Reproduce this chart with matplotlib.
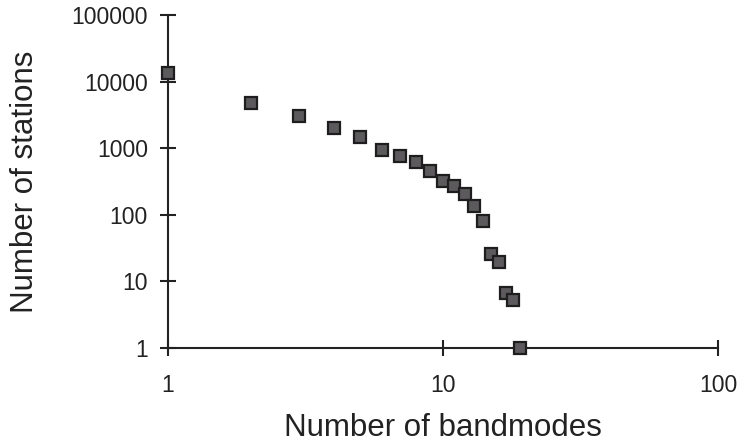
import matplotlib.pyplot as plt
from matplotlib.ticker import FixedLocator, FixedFormatter, NullLocator

plt.rcParams['font.family'] = ['Liberation Sans', 'DejaVu Sans']

bandmodes = [1, 2, 3, 4, 5, 6, 7, 8, 9, 10, 11, 12, 13, 14, 15, 16, 17, 18, 19]
stations = [13500, 4800, 3000, 2000, 1470, 930, 755, 614, 447, 327,
            275, 208, 137, 81, 25.7, 19.4, 6.8, 5.3, 1]

x_ticks = [1, 10, 100]
x_labels = ['1', '10', '100']
y_ticks = [1, 10, 100, 1000, 10000, 100000]
y_labels = ['1', '10', '100', '1000', '10000', '100000']

fig = plt.figure(figsize=(7.47, 4.44), dpi=100)
ax = fig.add_axes([0.2249, 0.2162, 0.7363, 0.75])

ax.plot(bandmodes, stations, linestyle='none', marker='s', markersize=9,
        markerfacecolor='#5c5a5c', markeredgecolor='#1e1e1e',
        markeredgewidth=1.6, clip_on=False, zorder=5)

ax.set_xscale('log')
ax.set_yscale('log')
ax.set_xlim(1, 100)
ax.set_ylim(1, 100000)

ax.xaxis.set_major_locator(FixedLocator(x_ticks))
ax.xaxis.set_major_formatter(FixedFormatter(x_labels))
ax.xaxis.set_minor_locator(NullLocator())
ax.yaxis.set_major_locator(FixedLocator(y_ticks))
ax.yaxis.set_major_formatter(FixedFormatter(y_labels))
ax.yaxis.set_minor_locator(NullLocator())

for side in ['top', 'right']:
    ax.spines[side].set_visible(False)
for side in ['left', 'bottom']:
    ax.spines[side].set_linewidth(1.5)
    ax.spines[side].set_color('#222222')

ax.tick_params(axis='both', direction='inout', length=11, width=1.5,
               color='#222222', labelsize=16.5, labelcolor='#222222')
ax.tick_params(axis='x', pad=13)
ax.tick_params(axis='y', pad=9)

ax.set_xlabel('Number of bandmodes', fontsize=22.5, color='#222222', labelpad=12)
ax.set_ylabel('Number of stations', fontsize=22.5, color='#222222')
ax.yaxis.set_label_coords(-0.233, 0.5)

fig.savefig('out.png', dpi=100, facecolor='white')
